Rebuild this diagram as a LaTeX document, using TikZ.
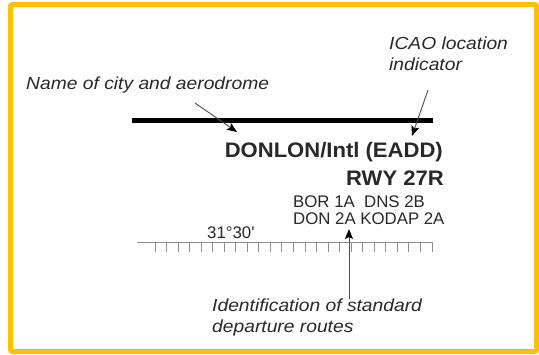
\documentclass[tikz,border=0pt]{standalone}
\usepackage{fontspec}
\setmainfont{Liberation Sans}
\newfontfamily\notefont{Liberation Sans}[FakeStretch=1.1]
\newfontfamily\headfont{Liberation Sans}[FakeStretch=1.05]
\usetikzlibrary{arrows.meta}
\definecolor{frameyellow}{RGB}{255,192,0}
\definecolor{textgray}{RGB}{40,40,40}

\begin{document}
\begin{tikzpicture}[
    x=1pt, y=-1pt,
    note/.style={font=\notefont\itshape\fontsize{17.5}{20.5}\selectfont, text=textgray, inner sep=0pt, align=left},
    title/.style={font=\headfont\bfseries\fontsize{21}{25}\selectfont, text=textgray, inner sep=0pt},
    route/.style={font=\fontsize{16.8}{17}\selectfont, text=textgray, inner sep=0pt},
    arr/.style={draw=black!70, line width=0.9pt, -{Stealth[length=10pt, width=8pt, inset=2pt, color=black]}},
    scaleline/.style={draw=black!45, line width=0.9pt}
]
\useasboundingbox (0,0) rectangle (539,354);
\draw[frameyellow, line width=5pt, rounded corners=2pt] (10.5,4.5) rectangle (536.5,351.5);

% heading bar and names
\draw[line width=5pt] (132,120.5) -- (433,120.5);
\node[title, anchor=base east] (aerodrome) at (443,157) {DONLON/Intl (EADD)};
\node[title, anchor=base east] (runway) at (444,185) {RWY 27R};
\node[route, anchor=base west] (sidtop) at (293,207) {BOR 1A\ \ DNS 2B};
\node[route, anchor=base west] (sidbot) at (293,224) {DON 2A KODAP 2A};

% latitude scale
\node[route, anchor=base west] (lat) at (207,238) {31°30\textquotesingle};
\draw[scaleline] (137,242) -- (433,242);
\foreach \i in {0,...,24}
    \draw[scaleline] (155+\i*11.54,242) -- ++(0,10);

% annotations (base = last line)
\node[note, anchor=base west] (city) at (26,89) {Name of city and aerodrome};
\node[note, anchor=base west] (icao) at (389,70) {ICAO location\\indicator};
\node[note, anchor=base west] (ident) at (212,332) {Identification of standard\\departure routes};

\coordinate (cityfrom) at (195,103);
\coordinate (cityto) at (237,132);
\coordinate (icaofrom) at (428,90);
\coordinate (icaoto) at (412,136);
\coordinate (identfrom) at (349,299);
\coordinate (identto) at (349,229);

\draw[arr] (cityfrom) -- (cityto);
\draw[arr] (icaofrom) -- (icaoto);
\draw[arr] (identfrom) -- (identto);
\end{tikzpicture}
\end{document}
